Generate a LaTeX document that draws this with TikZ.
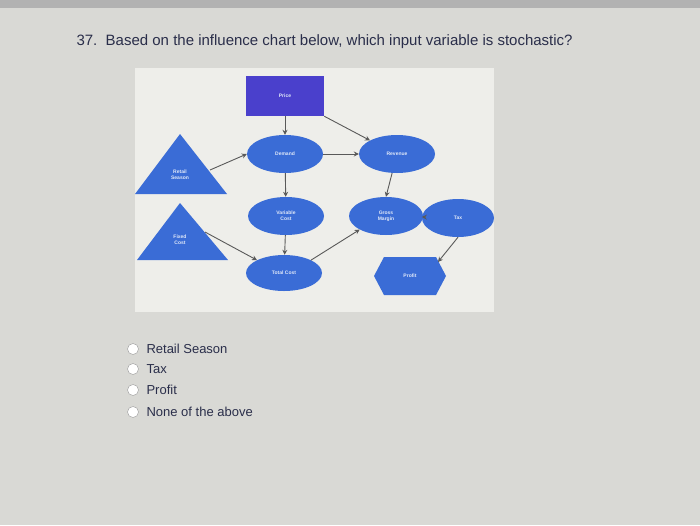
\documentclass[tikz,border=0pt]{standalone}
\usepackage{fontspec}
\setmainfont{Liberation Sans}
\usetikzlibrary{arrows.meta,shapes.geometric}
\definecolor{bg}{HTML}{D9D9D5}
\definecolor{panel}{HTML}{EEEEEA}
\definecolor{nodeblue}{HTML}{3A6CD6}
\definecolor{priceblue}{HTML}{4A40CC}
\definecolor{txt}{HTML}{2A2E4A}
\tikzset{
  oval/.style={ellipse,fill=nodeblue,minimum width=76pt,minimum height=38pt,inner sep=0pt,text=white!85!nodeblue,font=\bfseries\fontsize{5}{6}\selectfont,align=center},
  lbl/.style={text=white!85!nodeblue,font=\bfseries\fontsize{5}{6}\selectfont,align=center},
  link/.style={draw=black!65,line width=0.9pt,-{Stealth[length=5pt,width=5pt]}},
  radio/.style={circle,draw=black!40,fill=white,minimum size=11pt,inner sep=0pt},
  opt/.style={anchor=west,font=\fontsize{13}{15}\selectfont,text=txt}
}
\begin{document}
\begin{tikzpicture}[x=1pt,y=-1pt]
\useasboundingbox (0,0) rectangle (700,525);
\fill[bg] (0,0) rectangle (700,525);
\fill[black!30] (0,0) rectangle (700,8);
\fill[panel] (135,68) rectangle (494,312);
\node[anchor=west,font=\fontsize{15}{17}\selectfont,text=txt] (title) at (73,42) {37.\ \ Based on the influence chart below, which input variable is stochastic?};
% nodes
\node[rectangle,fill=priceblue,minimum width=78pt,minimum height=40pt,lbl] (price) at (285,96) {Price};
\node[oval] (demand) at (285,154) {Demand};
\node[oval] (revenue) at (397,154) {Revenue};
\node[oval] (varcost) at (286,216) {Variable\\Cost};
\node[oval,minimum width=74pt] (gross) at (386,216) {Gross\\Margin};
\node[oval,minimum width=72pt] (tax) at (458,218) {Tax};
\node[oval,minimum height=36pt] (total) at (284,273) {Total Cost};
\fill[nodeblue] (135,194) -- (180,134) -- (227,194) -- cycle;
\node[lbl] (retail) at (180,175) {Retail\\Season};
\coordinate (retailout) at (210,170);
\fill[nodeblue] (137,260) -- (180,203) -- (228,260) -- cycle;
\node[lbl] (fixed) at (180,240) {Fixed\\Cost};
\coordinate (fixedout) at (205,232);
\fill[nodeblue] (374,276) -- (384,257) -- (436,257) -- (446,276) -- (436,295) -- (384,295) -- cycle;
\node[lbl] (profit) at (410,276) {Profit};
\coordinate (profitin) at (438,262);
% connectors
\draw[link] (price) -- (demand);
\draw[link] (price.south east) -- (revenue.north west);
\draw[link] (retailout) -- (demand.west);
\draw[link] (demand) -- (revenue);
\draw[link] (demand) -- (varcost);
\draw[link] (revenue) -- (gross.north);
\draw[link] (varcost) -- (total);
\draw[link] (fixedout) -- (total.north west);
\draw[link] (total.north east) -- (gross.south west);
\draw[link] (gross) -- (tax);
\draw[link] (tax.south) -- (profitin);
% options
\foreach \y/\t [count=\i] in {349/Retail Season,369/Tax,390/Profit,412/None of the above}{
  \node[radio] (r\i) at (133,\y) {};
  \node[opt] (o\i) at (143,\y) {\t};
}
\end{tikzpicture}
\end{document}
